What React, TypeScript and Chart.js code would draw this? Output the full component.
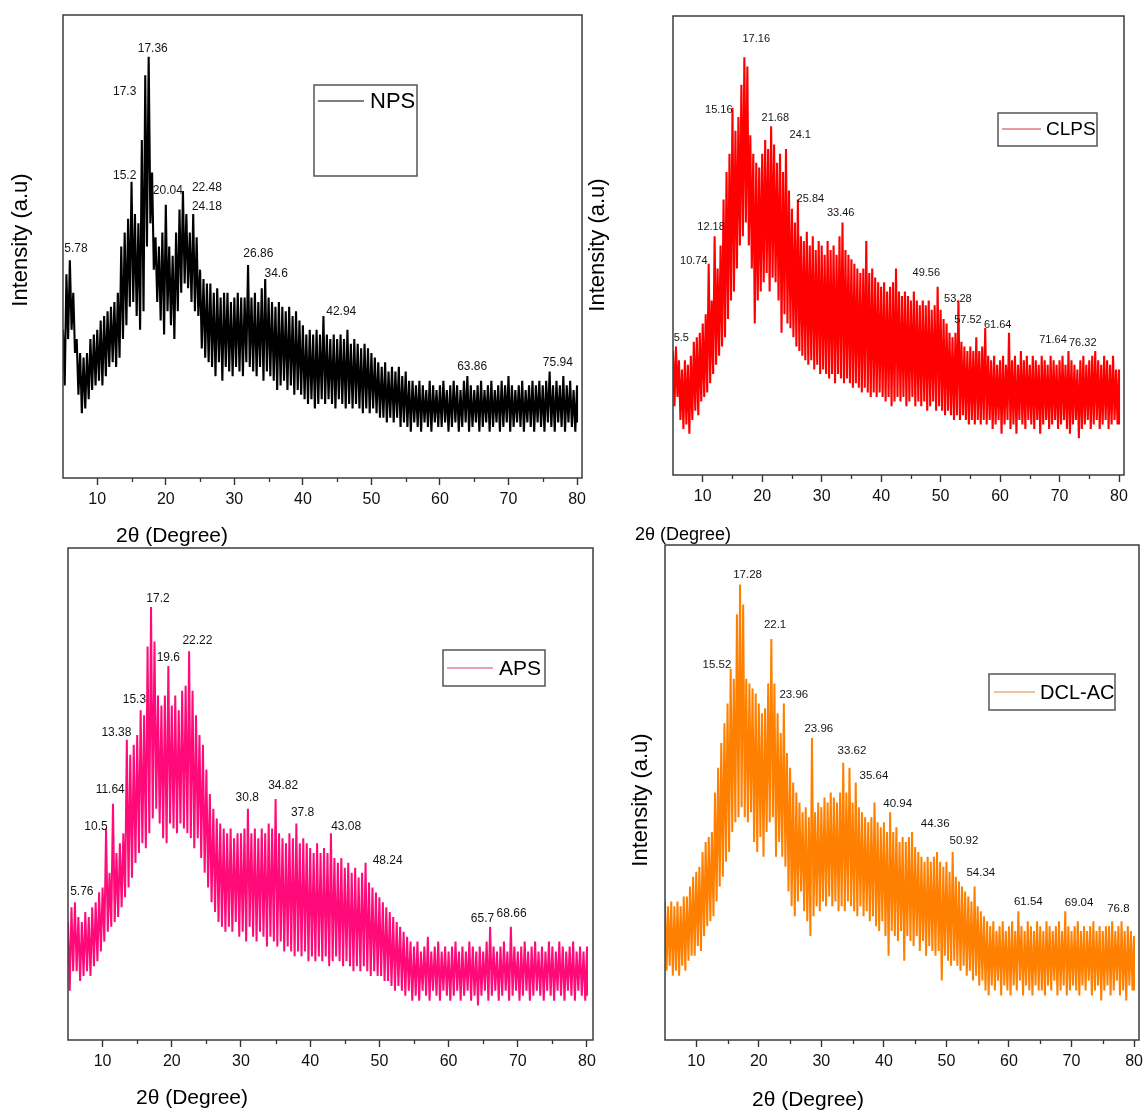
import React, { useEffect, useRef } from 'react';
import { Chart, registerables } from 'chart.js';

Chart.register(...registerables);

const FAMILY = '"Liberation Sans", Arial, Helvetica, sans-serif';

// 2θ sampling positions (deg) used for the envelope readings
const twoTheta: number[] = Array.from({ length: 151 }, (_, i) => 5 + i * 0.5);
const xTickValues = [10, 20, 30, 40, 50, 60, 70, 80];
const xMinorTicks = [15, 25, 35, 45, 55, 65, 75];

// ---- NPS (upper / lower readings of the noisy trace, % of plot height) ----
const npsHigh = [
  32, 44, 47, 40, 30, 27, 26, 27, 30, 31,
  32, 34, 35, 36, 37, 38, 40, 50, 53, 56,
  64, 57, 55, 73, 87, 91, 66, 52, 50, 53,
  59, 50, 48, 53, 58, 62, 57, 53, 57, 52,
  45, 43, 42, 42, 40, 41, 39, 40, 40, 38,
  39, 40, 39, 39, 46, 39, 40, 38, 41, 43,
  39, 38, 37, 38, 37, 36, 37, 35, 36, 34,
  33, 31, 32, 31, 32, 31, 35, 31, 30, 31,
  30, 31, 30, 32, 29, 30, 29, 28, 29, 28,
  27, 26, 25, 24, 25, 23, 24, 23, 24, 22,
  23, 21, 21, 20, 21, 20, 19, 21, 20, 19,
  20, 21, 19, 20, 21, 20, 19, 21, 22, 20,
  19, 20, 21, 19, 20, 21, 19, 20, 21, 20,
  22, 20, 19, 20, 21, 19, 20, 21, 20, 21,
  20, 21, 23, 20, 21, 20, 22, 20, 21, 19,
  20,
];
const npsLow = [
  20, 30, 32, 27, 18, 14, 15, 17, 19, 20,
  21, 20, 22, 24, 25, 24, 26, 30, 33, 37,
  38, 35, 32, 36, 50, 55, 45, 38, 34, 31,
  36, 33, 30, 36, 40, 42, 41, 38, 36, 35,
  28, 26, 25, 24, 22, 25, 21, 24, 23, 22,
  24, 23, 22, 25, 24, 23, 22, 24, 21, 23,
  22, 21, 19, 20, 21, 19, 20, 18, 19, 18,
  17, 16, 17, 15, 16, 17, 16, 17, 16, 15,
  17, 16, 15, 16, 15, 16, 15, 14, 15, 14,
  15, 14, 13, 13, 12, 13, 12, 13, 11, 12,
  11, 10, 12, 11, 10, 12, 11, 10, 12, 11,
  11, 12, 10, 11, 12, 10, 11, 12, 10, 11,
  12, 10, 11, 12, 10, 11, 12, 10, 11, 12,
  10, 11, 12, 11, 10, 12, 11, 10, 12, 11,
  10, 12, 11, 10, 12, 11, 10, 12, 11, 10,
  12,
];
const npsPeakText = ['17.36', '17.3', '15.2', '20.04', '22.48', '24.18', '5.78', '26.86', '34.6', '42.94', '63.86', '75.94'];
const npsPeakX = [18.1, 14.0, 14.0, 20.3, 26.0, 26.0, 6.9, 33.5, 36.1, 45.6, 64.7, 77.2];
const npsPeakY = [92.8, 83.4, 65.4, 62.0, 62.6, 58.5, 49.5, 48.4, 44.1, 35.9, 24.0, 24.8];

// ---- CLPS ----
const clpsHigh = [
  27, 28, 25, 23, 25, 24, 26, 29, 30, 31,
  33, 35, 46, 38, 52, 45, 50, 60, 66, 70,
  80, 75, 78, 85, 91, 89, 74, 70, 68, 67,
  70, 73, 71, 76, 72, 68, 70, 66, 71, 62,
  58, 55, 60, 52, 51, 53, 50, 52, 49, 51,
  50, 48, 51, 49, 50, 48, 52, 55, 49, 48,
  47, 46, 45, 44, 45, 51, 44, 45, 43, 42,
  41, 42, 40, 41, 42, 45, 40, 39, 40, 39,
  38, 40, 38, 37, 38, 37, 38, 36, 37, 41,
  36, 34, 33, 31, 30, 31, 38, 29, 28, 27,
  28, 27, 30, 27, 28, 32, 26, 25, 26, 24,
  25, 26, 24, 31, 25, 26, 24, 27, 25, 26,
  24, 26, 25, 24, 26, 25, 24, 26, 25, 24,
  25, 26, 24, 27, 25, 24, 23, 25, 26, 24,
  25, 26, 27, 25, 24, 26, 25, 24, 26, 23,
  23,
];
const clpsLow = [
  15, 17, 12, 10, 11, 9, 12, 14, 13, 16,
  17, 18, 20, 22, 24, 26, 28, 30, 34, 38,
  40, 45, 50, 52, 55, 50, 45, 33, 38, 40,
  42, 44, 40, 43, 42, 38, 31, 35, 33, 32,
  30, 28, 27, 26, 25, 24, 25, 23, 24, 22,
  23, 22, 21, 22, 20, 22, 21, 20, 21, 20,
  19, 20, 19, 18, 19, 18, 17, 18, 17, 18,
  17, 16, 17, 15, 16, 17, 16, 17, 15, 16,
  17, 15, 16, 15, 16, 14, 15, 16, 14, 15,
  14, 13, 14, 13, 12, 13, 12, 13, 12, 11,
  12, 11, 12, 11, 12, 11, 12, 10, 11, 12,
  9, 11, 12, 10, 11, 9, 12, 11, 10, 12,
  11, 10, 12, 9, 11, 12, 10, 11, 12, 10,
  11, 12, 10, 9, 11, 12, 8, 10, 11, 12,
  10, 11, 12, 10, 11, 12, 10, 11, 12, 11,
  11,
];
const clpsPeakText = ['17.16', '15.16', '21.68', '24.1', '25.84', '33.46', '12.18', '10.74', '5.5', '49.56', '53.28', '57.52', '61.64', '71.64', '76.32'];
const clpsPeakX = [19.0, 12.7, 22.2, 26.4, 28.1, 33.2, 11.4, 8.5, 6.4, 47.6, 52.9, 54.6, 59.6, 68.9, 73.9];
const clpsPeakY = [95, 79.5, 77.8, 74.1, 60.1, 57.1, 54, 46.6, 29.8, 44, 38.3, 33.8, 32.7, 29.4, 28.8];

// ---- APS ----
const apsHigh = [
  24, 27, 28, 25, 24, 26, 25, 27, 28, 30,
  31, 43, 34, 48, 38, 40, 42, 61, 58, 60,
  62, 67, 66, 80, 88, 81, 70, 68, 70, 76,
  68, 70, 67, 71, 72, 79, 71, 66, 62, 60,
  55, 50, 47, 45, 44, 43, 42, 43, 41, 42,
  42, 43, 47, 42, 43, 41, 43, 42, 44, 43,
  49, 42, 41, 40, 42, 41, 44, 40, 41, 40,
  39, 38, 40, 38, 39, 38, 42, 37, 36, 37,
  35, 36, 34, 35, 33, 34, 36, 32, 31, 30,
  29, 28, 27, 26, 25, 24, 23, 22, 21, 20,
  19, 20, 18, 19, 21, 18, 19, 20, 18, 19,
  18, 19, 20, 18, 19, 18, 20, 19, 18, 19,
  18, 20, 23, 19, 18, 19, 20, 18, 23, 19,
  18, 19, 20, 18, 19, 20, 18, 19, 18, 20,
  19, 18, 20, 19, 18, 19, 20, 18, 19, 18,
  19,
];
const apsLow = [
  10, 14, 14, 12, 13, 14, 13, 15, 16, 18,
  20, 22, 23, 24, 25, 27, 29, 31, 33, 36,
  38, 40, 39, 42, 45, 47, 44, 41, 40, 44,
  43, 42, 44, 43, 42, 41, 39, 41, 37, 34,
  31, 28, 26, 24, 23, 22, 23, 22, 24, 21,
  22, 20, 23, 21, 20, 22, 21, 19, 21, 20,
  19, 20, 18, 19, 18, 17, 18, 17, 18, 16,
  17, 16, 17, 16, 17, 15, 16, 17, 16, 15,
  16, 15, 14, 15, 14, 15, 14, 13, 14, 13,
  13, 12, 12, 11, 10, 11, 10, 9, 10, 8,
  9, 8, 10, 9, 8, 10, 9, 8, 10, 9,
  8, 9, 10, 8, 9, 10, 8, 9, 7, 9,
  10, 8, 9, 10, 8, 9, 10, 8, 9, 10,
  8, 9, 10, 8, 9, 10, 9, 8, 10, 9,
  8, 10, 9, 8, 10, 9, 8, 10, 9, 8,
  9,
];
const apsPeakText = ['17.2', '22.22', '19.6', '15.3', '13.38', '11.64', '10.5', '30.8', '34.82', '37.8', '5.76', '43.08', '48.24', '65.7', '68.66'];
const apsPeakX = [18.0, 23.7, 19.5, 14.6, 12.0, 11.1, 9.05, 30.9, 36.1, 38.9, 7.0, 45.2, 51.2, 64.9, 69.1];
const apsPeakY = [89.6, 81.1, 77.8, 69.1, 62.4, 50.8, 43.3, 49.2, 51.6, 46.3, 30.1, 43.3, 36.4, 24.6, 25.6];

// ---- DCL-AC ----
const dclHigh = [
  28, 27, 28, 27, 28, 27, 29, 29, 31, 33,
  34, 35, 38, 40, 41, 42, 50, 55, 60, 64,
  68, 75, 73, 86, 92, 88, 73, 72, 71, 70,
  68, 66, 67, 72, 81, 72, 66, 62, 68, 58,
  55, 52, 50, 48, 46, 47, 45, 61, 46, 48,
  47, 49, 48, 50, 49, 48, 50, 56, 50, 55,
  48, 52, 47, 46, 45, 44, 45, 48, 44, 43,
  44, 42, 46, 42, 43, 40, 41, 40, 41, 42,
  39, 38, 37, 36, 37, 36, 37, 38, 36, 35,
  36, 34, 38, 33, 32, 31, 30, 29, 28, 31,
  27, 26, 25, 24, 23, 24, 22, 23, 24, 22,
  23, 24, 22, 26, 23, 22, 24, 23, 22, 24,
  23, 22, 24, 23, 22, 23, 24, 22, 26, 23,
  22, 23, 24, 22, 23, 22, 23, 24, 22, 23,
  22, 23, 23, 24, 22, 23, 24, 22, 23, 22,
  21,
];
const dclLow = [
  14, 15, 13, 14, 13, 15, 14, 16, 17, 17,
  19, 18, 21, 23, 24, 25, 28, 31, 33, 36,
  38, 42, 44, 45, 47, 45, 44, 46, 40, 38,
  41, 37, 42, 44, 45, 37, 40, 37, 35, 30,
  27, 25, 28, 30, 26, 24, 21, 25, 27, 26,
  28, 27, 29, 27, 28, 26, 27, 26, 28, 27,
  26, 25, 27, 25, 26, 24, 25, 23, 22, 24,
  21, 17, 22, 21, 20, 22, 16, 21, 20, 19,
  21, 18, 20, 17, 19, 18, 17, 18, 12, 17,
  16, 15, 16, 15, 14, 15, 13, 14, 12, 13,
  11, 12, 10, 9, 11, 10, 12, 9, 11, 10,
  9, 11, 10, 12, 9, 11, 10, 9, 11, 10,
  10, 9, 11, 10, 12, 9, 10, 11, 9, 10,
  11, 10, 9, 11, 10, 12, 9, 10, 11, 8,
  10, 11, 9, 10, 12, 9, 10, 8, 11, 10,
  10,
];
const dclPeakText = ['17.28', '22.1', '15.52', '23.96', '23.96', '33.62', '35.64', '40.94', '44.36', '50.92', '54.34', '61.54', '69.04', '76.8'];
const dclPeakX = [18.2, 22.6, 13.3, 25.6, 29.6, 34.9, 38.4, 42.2, 48.2, 52.8, 55.5, 63.1, 71.2, 77.5];
const dclPeakY = [93.9, 83.8, 75.8, 69.7, 62.8, 58.4, 53.3, 47.7, 43.6, 40.2, 33.7, 28.0, 27.7, 26.5];

type Panel = {
  name: string;
  color: string;
  legendColor: string;
  lineWidth: number;
  high: number[];
  low: number[];
  peakText: string[];
  peakX: number[];
  peakY: number[];
  peakFont: number;
  area: { l: number; t: number; r: number; b: number };
  xMax: number;
  padL: number;
  padR: number;
  legend: { x: number; y: number; w: number; h: number; lineX0: number; lineX1: number; lineY: number; textX: number; font: number };
  yTitle?: { x: number; y: number; font: number };
  xTitle: { x: number; y: number; font: number };
};

const PAD_T = 12;
const PAD_B = 72;

const panels: Panel[] = [
  {
    name: 'NPS', color: '#000000', legendColor: '#000000', lineWidth: 2.1,
    high: npsHigh, low: npsLow, peakText: npsPeakText, peakX: npsPeakX, peakY: npsPeakY, peakFont: 12,
    area: { l: 63, t: 15, r: 583, b: 478 }, xMax: 80.73, padL: 60, padR: 8,
    legend: { x: 314, y: 85, w: 103, h: 91, lineX0: 318, lineX1: 364, lineY: 101, textX: 370, font: 22 },
    yTitle: { x: 21, y: 240, font: 22 },
    xTitle: { x: 172, y: 536, font: 21 },
  },
  {
    name: 'CLPS', color: '#ff0000', legendColor: '#d03a3a', lineWidth: 2.1,
    high: clpsHigh, low: clpsLow, peakText: clpsPeakText, peakX: clpsPeakX, peakY: clpsPeakY, peakFont: 11,
    area: { l: 673, t: 16, r: 1125, b: 475 }, xMax: 80.84, padL: 90, padR: 8,
    legend: { x: 998, y: 113, w: 99, h: 33, lineX0: 1002, lineX1: 1041, lineY: 129, textX: 1046, font: 19 },
    yTitle: { x: 598, y: 245, font: 22 },
    xTitle: { x: 683, y: 535, font: 18 },
  },
  {
    name: 'APS', color: '#ff0a78', legendColor: '#d8407a', lineWidth: 2.0,
    high: apsHigh, low: apsLow, peakText: apsPeakText, peakX: apsPeakX, peakY: apsPeakY, peakFont: 12,
    area: { l: 68, t: 548, r: 593, b: 1040 }, xMax: 80.87, padL: 60, padR: 8,
    legend: { x: 443, y: 650, w: 102, h: 36, lineX0: 447, lineX1: 493, lineY: 668, textX: 499, font: 21 },
    xTitle: { x: 192, y: 1098, font: 21 },
  },
  {
    name: 'DCL-AC', color: '#ff8000', legendColor: '#e08a3a', lineWidth: 2.0,
    high: dclHigh, low: dclLow, peakText: dclPeakText, peakX: dclPeakX, peakY: dclPeakY, peakFont: 11.5,
    area: { l: 665, t: 545, r: 1143, b: 1040 }, xMax: 80.79, padL: 60, padR: 5,
    legend: { x: 989, y: 674, w: 126, h: 36, lineX0: 994, lineX1: 1035, lineY: 692, textX: 1040, font: 20 },
    yTitle: { x: 641, y: 800, font: 22 },
    xTitle: { x: 808, y: 1100, font: 21 },
  },
];

function XrdPanel({ p }: { p: Panel }) {
  const ref = useRef<HTMLCanvasElement | null>(null);
  const ox = p.area.l - p.padL;
  const oy = p.area.t - PAD_T;
  const width = p.padL + (p.area.r - p.area.l) + p.padR;
  const height = PAD_T + (p.area.b - p.area.t) + PAD_B;

  useEffect(() => {
    const canvas = ref.current;
    if (!canvas) return;
    const pts: { x: number; y: number }[] = [];
    twoTheta.forEach((t, i) => {
      pts.push({ x: t, y: p.high[i] });
      pts.push({ x: i === twoTheta.length - 1 ? t : t + 0.25, y: p.low[i] });
    });

    const overlay = {
      id: 'overlay-' + p.name,
      afterDraw(chart: any) {
        const ctx = chart.ctx as CanvasRenderingContext2D;
        const ca = chart.chartArea;
        const xs = chart.scales.x;
        const ys = chart.scales.y;
        ctx.save();
        // frame
        ctx.strokeStyle = '#3c3c3c';
        ctx.lineWidth = 1.5;
        ctx.strokeRect(ca.left, ca.top, ca.right - ca.left, ca.bottom - ca.top);
        // minor ticks
        ctx.strokeStyle = '#333';
        ctx.lineWidth = 1.3;
        xMinorTicks.forEach((v) => {
          const px = Math.round(xs.getPixelForValue(v)) + 0.5;
          ctx.beginPath();
          ctx.moveTo(px, ca.bottom);
          ctx.lineTo(px, ca.bottom + 4);
          ctx.stroke();
        });
        // peak labels
        ctx.fillStyle = '#151515';
        ctx.font = `${p.peakFont}px ${FAMILY}`;
        ctx.textAlign = 'center';
        ctx.textBaseline = 'middle';
        p.peakText.forEach((txt, i) => {
          ctx.fillText(txt, xs.getPixelForValue(p.peakX[i]), ys.getPixelForValue(p.peakY[i]));
        });
        // legend
        const L = p.legend;
        ctx.fillStyle = '#ffffff';
        ctx.fillRect(L.x - ox, L.y - oy, L.w, L.h);
        ctx.strokeStyle = '#555';
        ctx.lineWidth = 1.5;
        ctx.strokeRect(L.x - ox, L.y - oy, L.w, L.h);
        ctx.strokeStyle = p.legendColor;
        ctx.lineWidth = 1.2;
        ctx.beginPath();
        ctx.moveTo(L.lineX0 - ox, L.lineY - oy);
        ctx.lineTo(L.lineX1 - ox, L.lineY - oy);
        ctx.stroke();
        ctx.fillStyle = '#000';
        ctx.font = `${L.font}px ${FAMILY}`;
        ctx.textAlign = 'left';
        ctx.textBaseline = 'middle';
        ctx.fillText(p.name, L.textX - ox, L.lineY - oy + 1);
        // axis titles
        ctx.textAlign = 'center';
        ctx.textBaseline = 'middle';
        ctx.font = `${p.xTitle.font}px ${FAMILY}`;
        ctx.fillText('2θ (Degree)', p.xTitle.x - ox, p.xTitle.y - oy);
        if (p.yTitle) {
          ctx.save();
          ctx.translate(p.yTitle.x - ox, p.yTitle.y - oy);
          ctx.rotate(-Math.PI / 2);
          ctx.font = `${p.yTitle.font}px ${FAMILY}`;
          ctx.fillText('Intensity (a.u)', 0, 0);
          ctx.restore();
        }
        ctx.restore();
      },
    };

    const chart = new Chart(canvas, {
      type: 'line',
      data: {
        datasets: [
          {
            label: p.name,
            data: pts,
            borderColor: p.color,
            borderWidth: p.lineWidth,
            borderJoinStyle: 'bevel',
            pointRadius: 0,
            fill: false,
            tension: 0,
          },
        ],
      },
      options: {
        animation: false,
        responsive: false,
        maintainAspectRatio: false,
        events: [],
        layout: { padding: { left: p.padL, top: PAD_T, right: p.padR, bottom: 0 } },
        plugins: { legend: { display: false }, tooltip: { enabled: false } },
        scales: {
          x: {
            type: 'linear',
            min: 5,
            max: p.xMax,
            afterBuildTicks: (s: any) => {
              s.ticks = xTickValues.map((v) => ({ value: v }));
            },
            afterFit: (s: any) => {
              s.height = PAD_B;
            },
            grid: { drawOnChartArea: false, drawTicks: true, tickLength: 7, tickWidth: 1.4, tickColor: '#333' },
            border: { display: false },
            ticks: {
              font: { family: FAMILY, size: 16 },
              color: '#111',
              padding: 5,
              maxRotation: 0,
              autoSkip: false,
            },
          },
          y: { type: 'linear', display: false, min: 0, max: 100 },
        },
      },
      plugins: [overlay],
    } as any);
    return () => chart.destroy();
  }, []);

  return (
    <canvas
      ref={ref}
      width={width}
      height={height}
      style={{ position: 'absolute', left: ox, top: oy, width, height }}
    />
  );
}

export default function App() {
  return (
    <div
      style={{
        position: 'absolute',
        left: 0,
        top: 0,
        width: 1148,
        height: 1113,
        overflow: 'hidden',
        background: '#ffffff',
      }}
    >
      {panels.map((p) => (
        <XrdPanel key={p.name} p={p} />
      ))}
    </div>
  );
}
